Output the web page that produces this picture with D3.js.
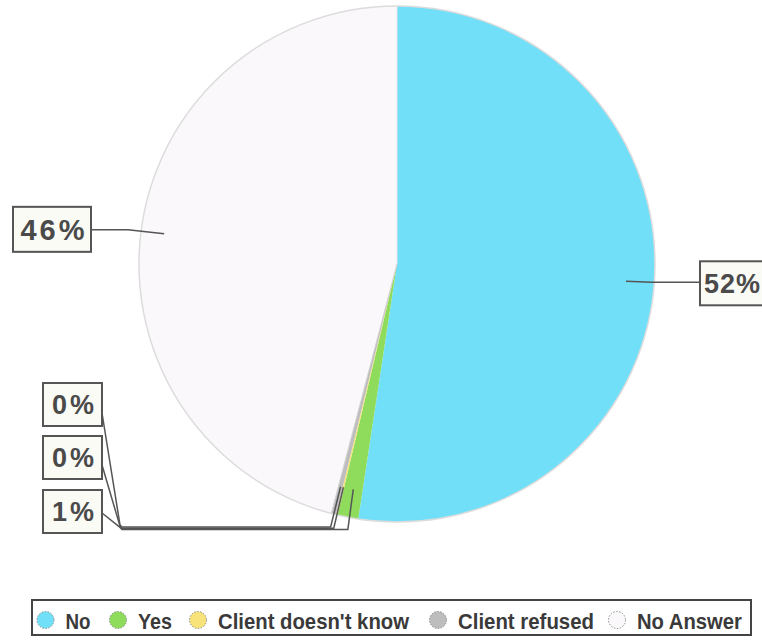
<!DOCTYPE html>
<html><head><meta charset="utf-8">
<script src="https://cdn.jsdelivr.net/npm/d3@7"></script>
<style>body{margin:0;background:#fff}svg{display:block}</style>
</head><body>
<svg id="c" width="762" height="643"></svg>
<script>
const categories = ["No", "Yes", "Client doesn't know", "Client refused", "No Answer"];
const values = [52.4, 1.3, 0.1, 0.3, 45.9];
const labels = ["52%", "1%", "0%", "0%", "46%"];
const colors = ["#72dff9", "#8fdc5c", "#f8e27a", "#bdbdbd", "#fbf8fb"];

const svg = d3.select("#c");
const cx = 397, cy = 264, R = 258;
const FONT = "Liberation Sans, Arial, sans-serif";
const g = svg.append("g").attr("transform", `translate(${cx},${cy})`);
const data = categories.map((c, i) => ({c, v: values[i], label: labels[i], color: colors[i], i}));
const pie = d3.pie().value(d => d.v).sort(null);
const arcs = pie(data);
const arc = d3.arc().innerRadius(0).outerRadius(R);

g.selectAll("path.s").data(arcs).join("path").attr("class","s")
  .attr("d", arc).attr("fill", d => d.data.color).attr("stroke", "none");
g.append("circle").attr("r", R).attr("fill","none").attr("stroke","#dcdcdc").attr("stroke-width",1.5);
g.selectAll("line.sep").data(arcs.filter(d=>d.index===4)).join("line")
  .attr("x1",0).attr("y1",0)
  .attr("x2", d=>R*Math.sin(d.startAngle)).attr("y2", d=>-R*Math.cos(d.startAngle))
  .attr("stroke","#cfcfcf").attr("stroke-width",1);
g.selectAll("line.sep2").data(arcs.filter(d=>d.index===4)).join("line")
  .attr("x1",0).attr("y1",0)
  .attr("x2", d=>R*Math.sin(d.endAngle)).attr("y2", d=>-R*Math.cos(d.endAngle))
  .attr("stroke","#e6e6e6").attr("stroke-width",1);

const lineCol = "#555";
function pt(a, r){ return [cx + r*Math.sin(a), cy - r*Math.cos(a)]; }
function box(x, y, w, h, text, fs, opts){
  opts = opts || {};
  svg.append("rect").attr("x",x).attr("y",y).attr("width",w).attr("height",h)
    .attr("fill","#fbfbf6").attr("stroke","#555").attr("stroke-width",2);
  const t = svg.append("text").attr("y",y+h/2+fs*0.36)
    .attr("font-family",FONT).attr("font-size",fs).attr("font-weight","bold")
    .attr("fill","#4a4a4a").attr("letter-spacing", opts.ls != null ? opts.ls : 3).text(text);
  if (opts.left != null) t.attr("x", x + opts.left);
  else t.attr("x", x+w/2+2).attr("text-anchor","middle");
}
// 52% label
{
  const a = arcs[0]; const m = (a.startAngle+a.endAngle)/2;
  const p = pt(m, R*0.89);
  svg.append("polyline").attr("points", `${p[0]},${p[1]} ${652},${p[1]+1} ${700},${p[1]+1}`).attr("fill","none").attr("stroke",lineCol).attr("stroke-width",1.5);
  box(700, p[1]-20, 80, 44, arcs[0].data.label, 27, {left: 4, ls: 1});
}
// 46% label
{
  const a = arcs[4]; const m = (a.startAngle+a.endAngle)/2;
  const p = pt(m, R*0.91);
  svg.append("polyline").attr("points", `${p[0]},${p[1]} ${128},${p[1]-4} ${91},${p[1]-4}`).attr("fill","none").attr("stroke",lineCol).attr("stroke-width",1.5);
  box(13, p[1]-27, 78, 45, arcs[4].data.label, 29);
}
// small labels: Client refused (top), Client doesn't know (middle), Yes (bottom)
const small = [{i:3, y:383, ly:413}, {i:2, y:436, ly:465}, {i:1, y:490, ly:513}];
small.forEach((s, k) => {
  const a = arcs[s.i]; const m = (a.startAngle+a.endAngle)/2;
  const p0 = pt(m, R*0.89);
  const jx = 120, jy = 525 + k*1.2;
  const hy = 527 + k*1.2;
  const ex = pt(m, R)[0] + (k===2 ? 0 : -3);
  svg.append("polyline")
    .attr("points", `${p0[0]},${p0[1]} ${ex},${hy} ${jx+2},${hy} ${jx},${jy} ${102},${s.ly}`)
    .attr("fill","none").attr("stroke",lineCol).attr("stroke-width",1.5);
  box(43, s.y, 59, 43, a.data.label, 27);
});

// legend
const lg = svg.append("g");
lg.append("rect").attr("x",32).attr("y",600).attr("width",719).attr("height",35)
  .attr("fill","#fff").attr("stroke","#444").attr("stroke-width",2);
const lx = [45.5, 118, 198, 438, 617];
const tw = [25, 34, 191, 136, 105];
data.forEach((d, i) => {
  lg.append("circle").attr("cx", lx[i]).attr("cy", 620).attr("r", 8.5)
    .attr("fill", d.color).attr("stroke", "#888").attr("stroke-width", 1).attr("stroke-dasharray","1.5,1.5");
  lg.append("text").attr("x", lx[i]+20).attr("y", 628.5)
    .attr("font-family",FONT).attr("font-size",22).attr("font-weight","bold")
    .attr("fill","#3a3a3a").attr("textLength", tw[i]).attr("lengthAdjust","spacingAndGlyphs").text(d.c);
});
</script>
</body></html>
